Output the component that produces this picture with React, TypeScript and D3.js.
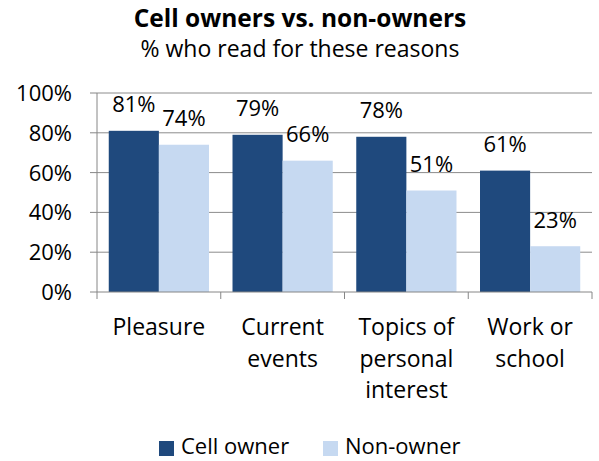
import * as d3 from 'd3'

const categories = [['Pleasure'], ['Current', 'events'], ['Topics of', 'personal', 'interest'], ['Work or', 'school']]
const cellOwner = [81, 79, 78, 61]
const nonOwner = [74, 66, 51, 23]
const seriesNames = ['Cell owner', 'Non-owner']
const yTickValues = [0, 20, 40, 60, 80, 100]

const colors = ['#1F497D', '#C6D9F1']

export default function App() {
  const width = 599
  const height = 461
  const margin = { top: 93, right: 7, bottom: 169, left: 97 }
  const innerW = width - margin.left - margin.right
  const innerH = height - margin.top - margin.bottom

  // category bands; each band holds two bars with a gap at both sides
  const x = d3
    .scaleBand<number>()
    .domain(categories.map((_, i) => i))
    .range([0, innerW])
  const step = x.step()
  const barW = step * 0.405
  const groupX = (i: number) => (x(i) ?? 0) + (step - 2 * barW) / 2
  const y = d3.scaleLinear().domain([0, 100]).range([innerH, 0])

  const series = [cellOwner, nonOwner]
  const font = '"Open Sans", sans-serif'
  const fs = 22

  return (
    <svg width={width} height={height} fontFamily={font} style={{ position: 'absolute', left: 0, top: 0 }}>
      <text x={300} y={27} textAnchor="middle" fontSize={24.5} fontWeight="bold">
        Cell owners vs. non-owners
      </text>
      <text x={300} y={57} textAnchor="middle" fontSize={23}>
        % who read for these reasons
      </text>
      <g transform={`translate(${margin.left},${margin.top})`}>
        {/* gridlines */}
        <g stroke="#8c8c8c" fill="none">
          {yTickValues.slice(1).map((t) => (
            <line key={t} x1={0} x2={innerW} y1={y(t)} y2={y(t)} />
          ))}
        </g>
        {/* y axis */}
        <g stroke="#868686" fill="none">
          <path d={`M0,0V${innerH}`} />
          {yTickValues.map((t) => (
            <line key={t} x1={-7} x2={0} y1={y(t)} y2={y(t)} />
          ))}
        </g>
        {yTickValues.map((t) => (
          <text key={t} x={-25} y={y(t)} dy="0.36em" textAnchor="end" fontSize={fs}>
            {t}%
          </text>
        ))}
        {/* bars */}
        {series.map((vals, s) =>
          vals.map((v, i) => (
            <g key={`${s}-${i}`}>
              <rect x={groupX(i) + s * barW} y={y(v)} width={barW} height={innerH - y(v)} fill={colors[s]} />
              <text x={groupX(i) + s * barW + barW / 2} y={y(v) - 18.5} textAnchor="middle" fontSize={fs}>
                {v}%
              </text>
            </g>
          ))
        )}
        {/* x axis */}
        <g stroke="#868686" fill="none">
          <path d={`M0,${innerH}H${innerW}`} />
          {d3.range(categories.length + 1).map((i) => (
            <line key={i} x1={i * step} x2={i * step} y1={innerH} y2={innerH + 7} />
          ))}
        </g>
        {categories.map((lines, i) => (
          <text key={i} x={(x(i) ?? 0) + step / 2} y={innerH + 43} textAnchor="middle" fontSize={23}>
            {lines.map((l, j) => (
              <tspan key={j} x={(x(i) ?? 0) + step / 2} dy={j === 0 ? 0 : 31.5}>
                {l}
              </tspan>
            ))}
          </text>
        ))}
      </g>
      {/* legend */}
      <g>
        {seriesNames.map((n, s) => (
          <g key={n} transform={`translate(${[159, 323][s]},441)`}>
            <rect width={15} height={15} fill={colors[s]} />
            <text x={22} y={13} fontSize={22}>
              {n}
            </text>
          </g>
        ))}
      </g>
    </svg>
  )
}
